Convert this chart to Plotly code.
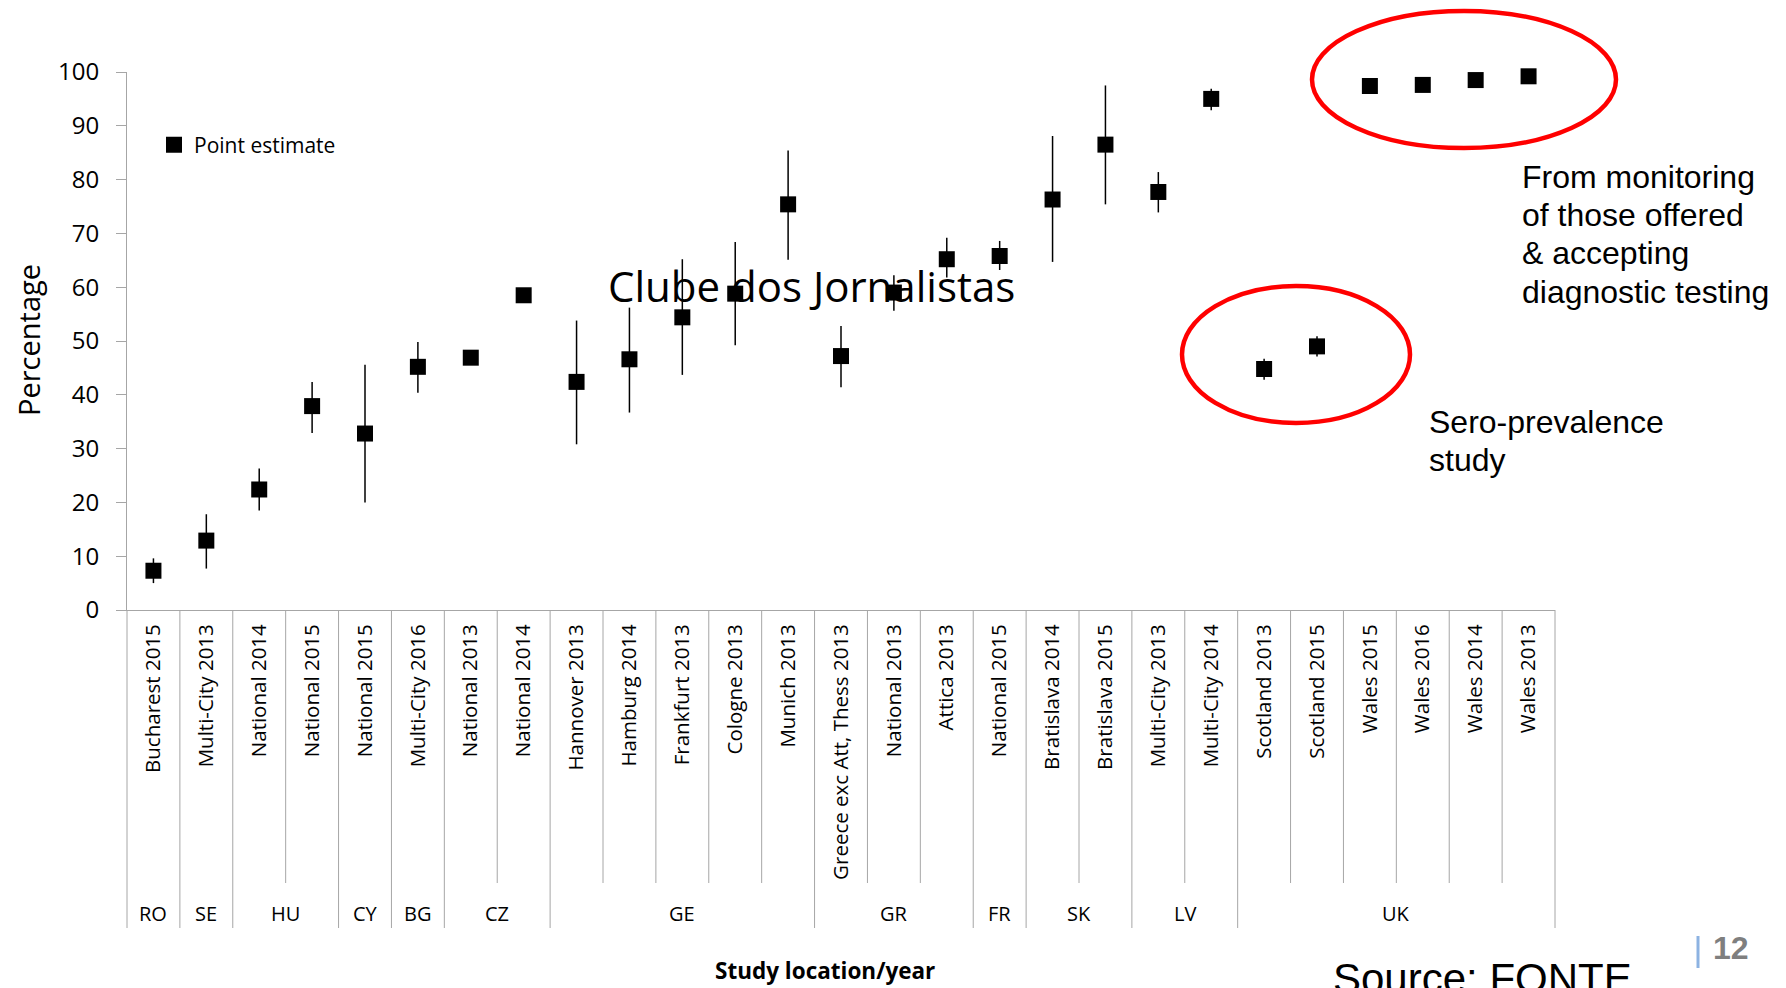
import plotly.graph_objects as go

# ---------------- data ----------------
categories = [
    "Bucharest 2015", "Multi-City 2013", "National 2014", "National 2015",
    "National 2015", "Multi-City 2016", "National 2013", "National 2014",
    "Hannover 2013", "Hamburg 2014", "Frankfurt 2013", "Cologne 2013", "Munich 2013",
    "Greece exc Att, Thess 2013", "National 2013", "Attica 2013",
    "National 2015", "Bratislava 2014", "Bratislava 2015",
    "Multi-City 2013", "Multi-City 2014",
    "Scotland 2013", "Scotland 2015", "Wales 2015", "Wales 2016", "Wales 2014", "Wales 2013",
]
point_estimate = [7.3, 12.9, 22.4, 37.9, 32.8, 45.2, 46.9, 58.5,
                  42.4, 46.6, 54.4, 58.8, 75.4,
                  47.2, 59.0, 65.2, 65.8, 76.3, 86.5, 77.7, 95.0,
                  44.8, 49.0, 97.4, 97.6, 98.5, 99.2]
upper_ci = [9.6, 17.8, 26.3, 42.4, 45.6, 49.8, None, None,
            53.8, 56.2, 65.2, 68.4, 85.4,
            52.8, 62.2, 69.2, 68.6, 88.1, 97.5, 81.4, 96.9,
            46.7, 50.9, None, None, None, None]
lower_ci = [5.0, 7.7, 18.5, 32.9, 20.0, 40.4, None, None,
            30.8, 36.7, 43.7, 49.2, 65.1,
            41.4, 55.6, 61.8, 63.2, 64.7, 75.4, 73.9, 92.9,
            42.8, 47.1, None, None, None, None]
countries = ["RO", "SE", "HU", "CY", "BG", "CZ", "GE", "GR", "FR", "SK", "LV", "UK"]
country_sizes = [1, 1, 2, 1, 1, 2, 5, 3, 1, 2, 2, 6]
y_ticks = [0, 10, 20, 30, 40, 50, 60, 70, 80, 90, 100]

# ---------------- layout geometry (page pixels) ----------------
OFF = 8                      # default page body margin
W, H = 1786 - OFF, 988 - OFF
PL, PR, PT, PB = 127, 1555, 72, 610      # plot area in page pixels
ML, MR, MT, MB = PL - OFF, W - (PR - OFF), PT - OFF, H - (PB - OFF)
plot_h = PB - PT
plot_w = PR - PL

def py_to_paper(py):
    return (PB - py) / plot_h

def px_to_paper(px):
    return (px - PL) / plot_w

x_idx = list(range(len(categories)))
err_plus = [(u - v) if u is not None else 0 for u, v in zip(upper_ci, point_estimate)]
err_minus = [(v - l) if l is not None else 0 for l, v in zip(lower_ci, point_estimate)]

GRID = "#a6a6a6"
FONT = "Open Sans"

fig = go.Figure()
fig.add_trace(go.Scatter(
    x=x_idx, y=point_estimate, mode="markers", name="Point estimate",
    marker=dict(symbol="square", size=16, color="black"),
    error_y=dict(type="data", symmetric=False, array=err_plus, arrayminus=err_minus,
                 width=0, thickness=1.5, color="black"),
    cliponaxis=False,
))

shapes = []
# category dividers
bounds = set()
c = 0
for s in country_sizes:
    bounds.add(c)
    c += s
bounds.add(c)
n = len(categories)
for i in range(n + 1):
    is_group = i in bounds
    y_bot = py_to_paper(928) if is_group else py_to_paper(883)
    if i == 0 or i == n:
        shapes.append(dict(type="line", xref="x domain", yref="paper",
                           x0=0 if i == 0 else 1, x1=0 if i == 0 else 1,
                           y0=0, y1=y_bot, line=dict(color=GRID, width=1)))
    else:
        shapes.append(dict(type="line", xref="x", yref="paper",
                           x0=i - 0.5, x1=i - 0.5, y0=0, y1=y_bot,
                           line=dict(color=GRID, width=1)))

# red ellipses
shapes.append(dict(type="circle", xref="paper", yref="paper",
                   x0=px_to_paper(1312), x1=px_to_paper(1616),
                   y0=py_to_paper(148), y1=py_to_paper(11),
                   line=dict(color="#ff0000", width=4.5)))
shapes.append(dict(type="circle", xref="paper", yref="paper",
                   x0=px_to_paper(1182), x1=px_to_paper(1410),
                   y0=py_to_paper(423), y1=py_to_paper(286),
                   line=dict(color="#ff0000", width=4.5)))
# page number bar
shapes.append(dict(type="line", xref="paper", yref="paper",
                   x0=px_to_paper(1698), x1=px_to_paper(1698),
                   y0=py_to_paper(936), y1=py_to_paper(968),
                   line=dict(color="#8db3e2", width=3)))

annotations = []
# country labels
c = 0
for g, s in zip(countries, country_sizes):
    annotations.append(dict(x=c + (s - 1) / 2, y=py_to_paper(913), xref="x", yref="paper",
                            text=g, showarrow=False, xanchor="center", yanchor="middle",
                            font=dict(family=FONT, size=20, color="black")))
    c += s

def note(text, px, py, size, family="Liberation Sans", xanchor="left", yanchor="middle",
         color="black", angle=0):
    return dict(x=px_to_paper(px), y=py_to_paper(py), xref="paper", yref="paper",
                text=text, showarrow=False, xanchor=xanchor, yanchor=yanchor,
                textangle=angle, font=dict(family=family, size=size, color=color))

annotations += [
    note("Percentage", 28, 340, 29, FONT, "center", "middle", angle=-90),
    note("<b>Study location/year</b>", 825, 970, 22.5, FONT, "center", "middle"),
    note("Clube dos Jornalistas", 811, 285, 42, FONT, "center", "middle"),
]
right_lines = ["From monitoring", "of those offered", "&amp; accepting", "diagnostic testing"]
right_centers = [177, 215, 253, 292]
for t, yc in zip(right_lines, right_centers):
    annotations.append(note(t, 1520, yc, 32))
sero_lines = ["Sero-prevalence", "study"]
sero_centers = [422, 460]
for t, yc in zip(sero_lines, sero_centers):
    annotations.append(note(t, 1427, yc, 32))
annotations += [
    note("Source: FONTE", 1331, 953, 42, yanchor="top"),
    note("<b>12</b>", 1731, 948, 32, xanchor="center", color="#7f7f7f"),
]

fig.update_layout(
    template="none",
    width=W, height=H,
    margin=dict(l=ML, r=MR, t=MT, b=MB, autoexpand=False),
    paper_bgcolor="white", plot_bgcolor="white",
    showlegend=True,
    legend=dict(x=px_to_paper(154), y=py_to_paper(145), xanchor="left", yanchor="middle",
                bgcolor="rgba(0,0,0,0)", font=dict(family=FONT, size=21, color="black"),
                itemwidth=30),
    xaxis=dict(range=[-0.5, n - 0.5], tickmode="array", tickvals=x_idx, ticktext=categories,
               tickangle=-90, showline=True, linecolor=GRID, linewidth=1, ticks="",
               showgrid=False, zeroline=False, automargin=False,
               ticklabelstandoff=5,
               tickfont=dict(family=FONT, size=20.5, color="black")),
    yaxis=dict(range=[0, 100], tickmode="array", tickvals=y_ticks, showline=True,
               linecolor=GRID, linewidth=1, ticks="outside", ticklen=10, tickcolor=GRID,
               showgrid=False, zeroline=False, automargin=False,
               ticklabelstandoff=12,
               tickfont=dict(family=FONT, size=24, color="black")),
    shapes=shapes,
    annotations=annotations,
)

fig.write_html("out.html")
